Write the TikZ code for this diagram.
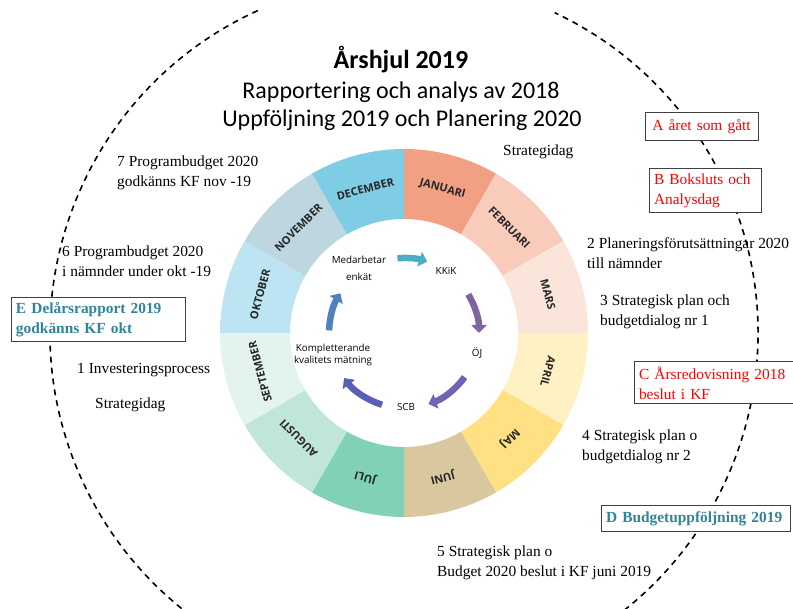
\documentclass[tikz,border=0pt]{standalone}
\usepackage{fontspec}
\setmainfont{Liberation Serif}
\newfontfamily\calfont{Carlito}
\newfontfamily\opfont{Open Sans}
\usetikzlibrary{arrows.meta}

\definecolor{jan}{HTML}{F2A084}
\definecolor{feb}{HTML}{F8CBBB}
\definecolor{mar}{HTML}{FBE5DB}
\definecolor{apr}{HTML}{FEF1C3}
\definecolor{maj}{HTML}{FFE183}
\definecolor{jun}{HTML}{D9C89F}
\definecolor{jul}{HTML}{81D1B8}
\definecolor{aug}{HTML}{C0E6D7}
\definecolor{sep}{HTML}{E2F4EC}
\definecolor{okt}{HTML}{BCE4F3}
\definecolor{nov}{HTML}{BDD6DF}
\definecolor{dec}{HTML}{7FCCE5}
\definecolor{pil1}{HTML}{4BACC6}
\definecolor{pil2}{HTML}{8064A2}
\definecolor{pil3}{HTML}{7062B4}
\definecolor{pil4}{HTML}{5A5FB6}
\definecolor{pil5}{HTML}{4F81BD}
\definecolor{blagron}{HTML}{31849B}

\begin{document}
\begin{tikzpicture}[x=1pt,y=1pt]
			            \tikzset{
				            ruta/.style={draw=black!75, line width=1pt, fill=white, inner xsep=5pt, inner ysep=0pt, align=left, font=\fontsize{15.4}{20}\selectfont},
				            roed/.style={text=red},
				            bla/.style={text=blagron, font=\bfseries\fontsize{15.4}{20}\selectfont},
				            txt/.style={anchor=west, align=left, inner sep=0pt, font=\fontsize{15.4}{20}\selectfont},
				            manad/.style={text=black!85, inner sep=0pt, font=\opfont\bfseries\fontsize{11}{12}\selectfont},
				            inre/.style={align=center, inner sep=1pt, font=\opfont\fontsize{9.8}{12}\selectfont},
				            pil/.style={line width=6.5pt, -{Triangle[width=15pt,length=8pt]}},
				            streck/.style={line width=1.6pt, dash pattern=on 6pt off 5pt}
			            }

			            \useasboundingbox (0,0) rectangle (793,609);
			            \clip (0,0) rectangle (793,609);
			            \coordinate (c) at (404,276);

			            \draw[streck] ([shift={(114.4:354)}]c) arc[start angle=114.4, end angle=424.8, radius=354];

			            \foreach \m/\f [count=\i] in {JANUARI/jan, FEBRUARI/feb, MARS/mar, APRIL/apr, MAJ/maj, JUNI/jun, JULI/jul, AUGUSTI/aug, SEPTEMBER/sep, OKTOBER/okt, NOVEMBER/nov, DECEMBER/dec}{
				            \pgfmathsetmacro\a{90-30*\i}
				            \fill[\f] ([shift={(\a+30:184)}]c) arc[start angle=\a+30, end angle=\a, radius=184]
				              -- ([shift={(\a:114)}]c) arc[start angle=\a, end angle=\a+30, radius=114] -- cycle;
				            \node[manad, rotate=\a-75] (mon\i) at ([shift={(\a+15:149)}]c) {\m};
			            }

			            \node[font=\calfont\bfseries\fontsize{26}{30}\selectfont] (titel) at (401,549) {Årshjul 2019};
			            \node[font=\calfont\fontsize{24}{29}\selectfont] (rubrik1) at (401,517) {Rapportering och analys av 2018};
			            \node[font=\calfont\fontsize{24}{29}\selectfont] (rubrik2) at (402,489) {Uppföljning 2019 och Planering 2020};

			            \node[inre, font=\opfont\fontsize{9.8}{17}\selectfont] (med) at (359,341) {Medarbetar\\enkät};
			            \node[inre] (kkik) at (446,338) {KKiK};
			            \node[inre] (oj) at (477,256) {ÖJ};
			            \node[inre] (scb) at (406,202) {SCB};
			            \node[inre] (komp) at (333,254) {Kompletterande\\kvalitets mätning};

			            \foreach \s/\e/\f in {95/72/pil1, 31/0/pil2, -36/-71/pil3, -107/-143/pil4, 178/148/pil5}
				            \draw[pil, draw=\f] ([shift={(\s:75)}]c) arc[start angle=\s, end angle=\e, radius=75];

			            \node[txt] (strat1) at (503,457) {Strategidag};
			            \node[txt] (txt7) at (117,436) {7 Programbudget 2020\\godkänns KF nov -19};
			            \node[txt] (txt6) at (62,348) {6 Programbudget 2020\\i nämnder under okt -19};
			            \node[txt] (txt1) at (77,239) {1 Investeringsprocess};
			            \node[txt] (strat2) at (95,204) {Strategidag};
			            \node[txt] (txt2) at (587,356) {2 Planeringsförutsättningar 2020\\till nämnder};
			            \node[txt] (txt3) at (600,297) {3 Strategisk plan och\\budgetdialog nr 1};
			            \node[txt] (txt4) at (582,162) {4 Strategisk plan o\\budgetdialog nr 2};
			            \node[txt] (txt5) at (437,46) {5 Strategisk plan o\\Budget 2020 beslut i KF juni 2019};

			            \node[ruta, roed, align=center, text width=103pt, minimum height=28pt] (boxA) at (701.5,482) {A året som gått};
			            \node[ruta, roed, text width=102pt, minimum height=44pt] (boxB) at (705,418) {B Boksluts och\\Analysdag};
			            \node[ruta, roed, text width=149pt, minimum height=42pt] (boxC) at (713.5,226) {C Årsredovisning 2018\\beslut i KF};
			            \node[ruta, bla, text width=179pt, minimum height=26pt] (boxD) at (695.5,90) {D Budgetuppföljning 2019};
			            \node[ruta, bla, text width=164pt, minimum height=44pt] (boxE) at (98,289) {E Delårsrapport 2019\\godkänns KF okt};
		            \end{tikzpicture}
\end{document}
